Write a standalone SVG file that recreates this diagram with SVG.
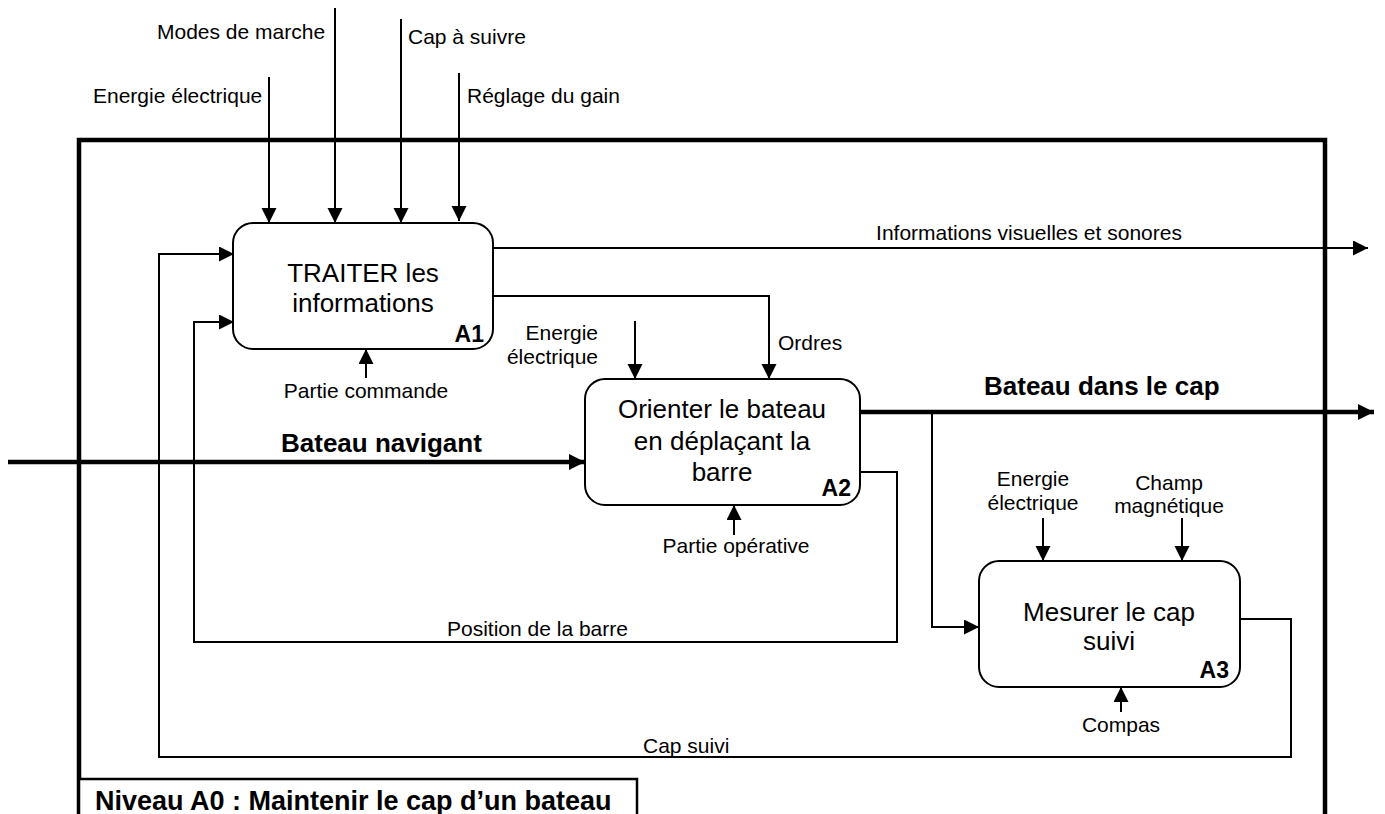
<svg xmlns="http://www.w3.org/2000/svg" width="1385" height="814" viewBox="0 0 1385 814">
  <defs>
    <marker id="arr" markerUnits="userSpaceOnUse" markerWidth="17" markerHeight="17" refX="15" refY="7.5" orient="auto">
      <path d="M0,0 L15,7.5 L0,15 Z" fill="#000"/>
    </marker>
    <marker id="arrB" markerUnits="userSpaceOnUse" markerWidth="18" markerHeight="18" refX="16" refY="8" orient="auto">
      <path d="M0,0 L16,8 L0,16 Z" fill="#000"/>
    </marker>
  </defs>
  <style>
    text { font-family: "Liberation Sans", Arial, sans-serif; fill: #000; }
    .lbl { font-size: 21px; }
    .main { font-size: 26px; text-anchor: middle; }
    .code { font-size: 23px; font-weight: bold; text-anchor: end; }
    .bold { font-size: 26px; font-weight: bold; }
    .box { fill: #fff; stroke: #000; stroke-width: 2; }
    .c { fill: none; stroke: #000; stroke-width: 2; }
    .ca { fill: none; stroke: #000; stroke-width: 2; marker-end: url(#arr); }
    .thick { fill: none; stroke: #000; stroke-width: 4.5; marker-end: url(#arrB); }
  </style>
  <rect width="1385" height="814" fill="#fff"/>

  <g id="frame">
    <path d="M79,816 V140 H1325 V816" fill="none" stroke="#000" stroke-width="4.5"/>
  </g>

  <g id="connectors">
    <path class="ca" d="M269,77 V223"/>
    <path class="ca" d="M335,8 V223"/>
    <path class="ca" d="M401,19 V223"/>
    <path class="ca" d="M459,73 V221"/>
    <path class="ca" d="M493,248 H1368"/>
    <path class="ca" d="M493,296 H769 V379"/>
    <path class="ca" d="M635,321 V379"/>
    <path class="ca" d="M366,378 V349"/>
    <path class="thick" d="M8,462 H585"/>
    <path class="thick" d="M860,412 H1374"/>
    <path class="ca" d="M932,412 V627 H979"/>
    <path class="ca" d="M734,535 V505"/>
    <path class="ca" d="M860,472 H897 V642 H194 V322 H234"/>
    <path class="ca" d="M1043,518 V561"/>
    <path class="ca" d="M1182,518 V561"/>
    <path class="ca" d="M1121,712 V687"/>
    <path class="ca" d="M1240,619 H1291 V757 H159 V254 H234"/>
  </g>

  <g id="labels">
    <text class="lbl" x="93" y="103">Energie électrique</text>
    <text class="lbl" x="157" y="39">Modes de marche</text>
    <text class="lbl" x="408" y="44">Cap à suivre</text>
    <text class="lbl" x="467" y="103">Réglage du gain</text>
    <text class="lbl" x="1029" y="240" text-anchor="middle">Informations visuelles et sonores</text>
    <text class="lbl" x="778" y="350">Ordres</text>
    <text class="lbl" x="598" y="340" text-anchor="end">Energie</text>
    <text class="lbl" x="598" y="364" text-anchor="end">électrique</text>
    <text class="lbl" x="366" y="398" text-anchor="middle">Partie commande</text>
    <text class="bold" x="281" y="452">Bateau navigant</text>
    <text class="bold" x="984" y="395">Bateau dans le cap</text>
    <text class="lbl" x="736" y="553" text-anchor="middle">Partie opérative</text>
    <text class="lbl" x="1033" y="486" text-anchor="middle">Energie</text>
    <text class="lbl" x="1033" y="510" text-anchor="middle">électrique</text>
    <text class="lbl" x="1169" y="490" text-anchor="middle">Champ</text>
    <text class="lbl" x="1169" y="513" text-anchor="middle">magnétique</text>
    <text class="lbl" x="1121" y="732" text-anchor="middle">Compas</text>
    <text class="lbl" x="447" y="636">Position de la barre</text>
    <text class="lbl" x="643" y="753">Cap suivi</text>
  </g>

  <g id="A1">
    <rect class="box" x="233" y="223" width="260" height="126" rx="20" ry="20"/>
    <text class="main" x="363" y="282">TRAITER les</text>
    <text class="main" x="363" y="312">informations</text>
    <text class="code" x="484" y="342">A1</text>
  </g>

  <g id="A2">
    <rect class="box" x="585" y="379" width="275" height="126" rx="20" ry="20"/>
    <text class="main" x="722" y="418">Orienter le bateau</text>
    <text class="main" x="722" y="450">en déplaçant la</text>
    <text class="main" x="722" y="481">barre</text>
    <text class="code" x="851" y="496">A2</text>
  </g>

  <g id="A3">
    <rect class="box" x="979" y="561" width="261" height="126" rx="20" ry="20"/>
    <text class="main" x="1109" y="621">Mesurer le cap</text>
    <text class="main" x="1109" y="650">suivi</text>
    <text class="code" x="1229" y="678">A3</text>
  </g>

  <g id="title">
    <rect x="79" y="779" width="558" height="40" fill="#fff" stroke="#000" stroke-width="2.5"/>
    <text x="95" y="810" font-size="27" font-weight="bold">Niveau A0 : Maintenir le cap d’un bateau</text>
  </g>
</svg>
